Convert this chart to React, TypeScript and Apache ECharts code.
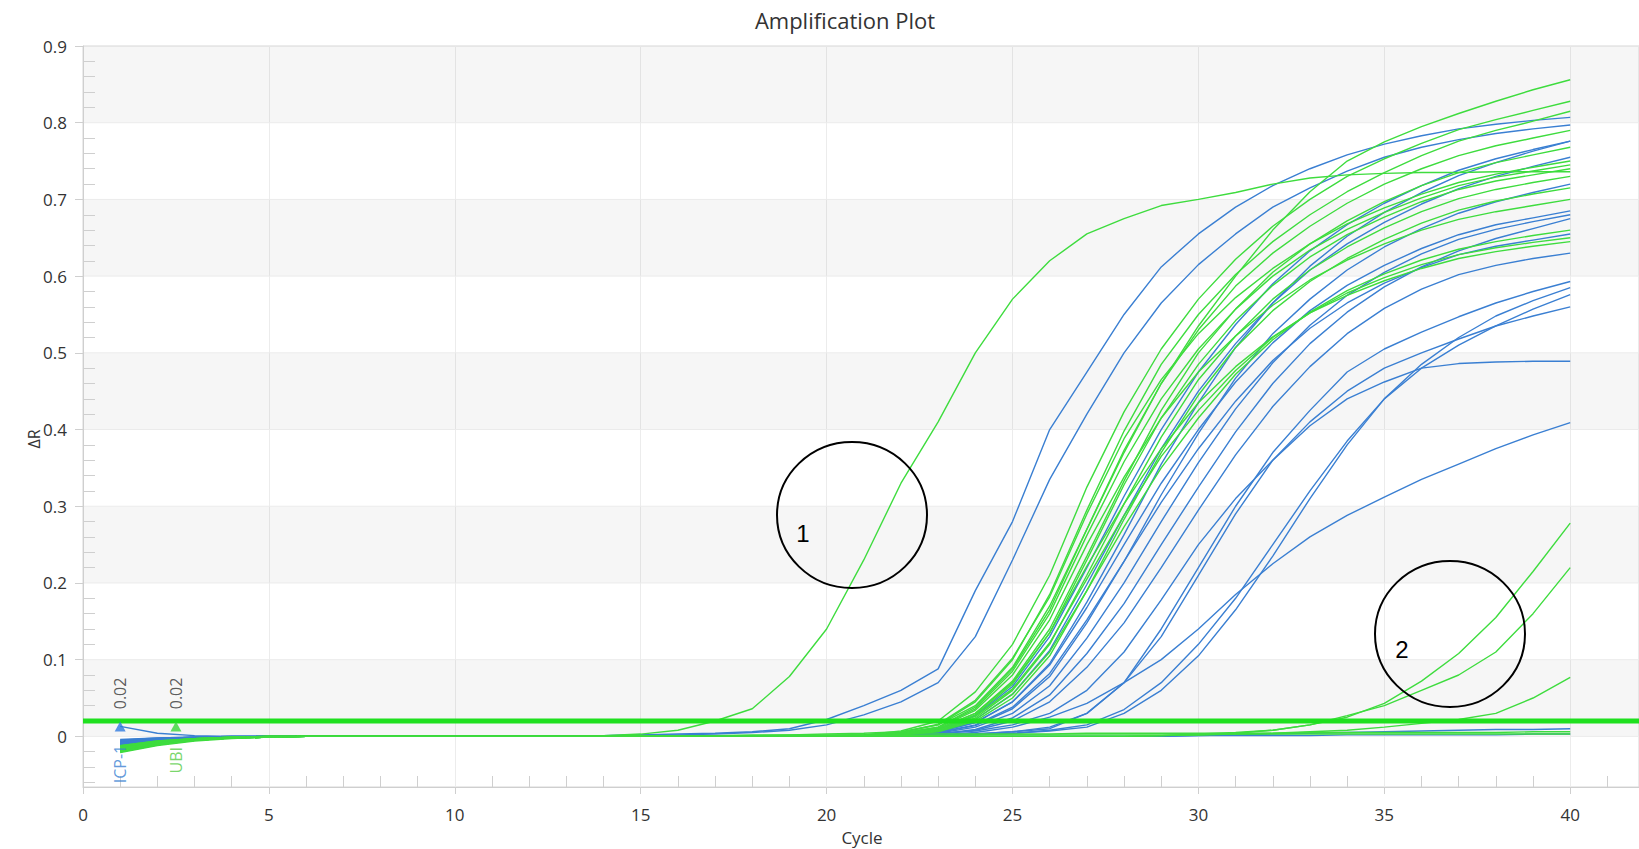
import React, { useEffect, useRef } from "react";
import * as echarts from "echarts";

// ---------- axes ----------
const X_MAX = 41.85;
const Y_MIN = -0.066;
const Y_MAX = 0.9;
const cycles = [1,2,3,4,5,6,7,8,9,10,11,12,13,14,15,16,17,18,19,20,21,22,23,24,25,26,27,28,29,30,31,32,33,34,35,36,37,38,39,40];
const xTicks = [0,5,10,15,20,25,30,35,40];
const xMinorTicks = [1,2,3,4,6,7,8,9,11,12,13,14,16,17,18,19,21,22,23,24,26,27,28,29,31,32,33,34,36,37,38,39,41];
const yTicks = [0,0.1,0.2,0.3,0.4,0.5,0.6,0.7,0.8,0.9];
const yMinorTicks = [-0.06,-0.04,-0.02,0.02,0.04,0.06,0.08,0.12,0.14,0.16,0.18,0.22,0.24,0.26,0.28,0.32,0.34,0.36,0.38,0.42,0.44,0.46,0.48,0.52,0.54,0.56,0.58,0.62,0.64,0.66,0.68,0.72,0.74,0.76,0.78,0.82,0.84,0.86,0.88];
const bandStarts = [0,0.2,0.4,0.6,0.8];

// ---------- threshold ----------
const thresholdValue = 0.02;
const thresholdTargets = ["ICP-1", "UBI"];
const thresholdCycles = [1, 2.5];
const thresholdMarkerY = 0.013;
const thresholdLabelY = [0.056, 0.056];
const targetLabelY = [-0.036, -0.031];

// ---------- ICP-1 (blue) curves, ΔR at cycles 1..40 ----------
const icp1 = [
  [-0.01,-0.005,-0.002,-0.001,0,0,0,0,0,0,0,0,0.001,0.001,0.002,0.003,0.004,0.006,0.01,0.022,0.04,0.06,0.088,0.19,0.28,0.40,0.475,0.55,0.612,0.655,0.69,0.718,0.74,0.758,0.772,0.783,0.792,0.798,0.803,0.807],
  [-0.006,-0.003,-0.001,0,0,0,0,0,0,0,0,0,0,0.001,0.002,0.002,0.003,0.005,0.008,0.015,0.028,0.045,0.07,0.13,0.23,0.335,0.42,0.5,0.565,0.615,0.655,0.69,0.715,0.737,0.755,0.768,0.778,0.786,0.792,0.797],
  [-0.012,-0.006,-0.003,-0.001,0,0,0,0,0,0,0,0,0,0,0,0,0,0,0.001,0.001,0.001,0.003,0.009,0.027,0.065,0.13,0.22,0.313,0.40,0.475,0.537,0.59,0.633,0.667,0.695,0.718,0.738,0.753,0.765,0.776],
  [-0.01,-0.005,-0.002,-0.001,0,0,0,0,0,0,0,0,0,0,0,0,0,0,0,0.001,0.001,0.002,0.006,0.018,0.045,0.095,0.175,0.263,0.355,0.435,0.507,0.565,0.613,0.652,0.683,0.709,0.731,0.748,0.763,0.776],
  [-0.008,-0.004,-0.002,-0.001,0,0,0,0,0,0,0,0,0,0,0,0,0,0,0,0.001,0.001,0.002,0.007,0.022,0.055,0.112,0.198,0.288,0.375,0.45,0.512,0.565,0.608,0.642,0.67,0.694,0.714,0.73,0.743,0.755],
  [-0.011,-0.006,-0.003,-0.001,0,0,0,0,0,0,0,0,0,0,0,0,0,0,0,0,0.001,0.002,0.005,0.014,0.036,0.078,0.148,0.228,0.315,0.395,0.467,0.525,0.57,0.608,0.638,0.662,0.682,0.697,0.709,0.72],
  [-0.005,-0.002,-0.001,0,0,0,0,0,0,0,0,0,0,0,0,0,0,0,0,0.001,0.001,0.002,0.006,0.018,0.045,0.093,0.168,0.25,0.33,0.40,0.462,0.513,0.555,0.588,0.614,0.636,0.654,0.667,0.676,0.685],
  [-0.013,-0.007,-0.003,-0.001,-0.001,0,0,0,0,0,0,0,0,0,0,0,0,0,0,0,0,0.001,0.004,0.012,0.03,0.066,0.128,0.20,0.28,0.357,0.427,0.487,0.536,0.575,0.605,0.629,0.648,0.661,0.671,0.68],
  [-0.009,-0.005,-0.002,-0.001,0,0,0,0,0,0,0,0,0,0,0,0,0,0,0,0,0,0.001,0.003,0.009,0.024,0.054,0.108,0.173,0.25,0.325,0.397,0.46,0.512,0.553,0.586,0.612,0.633,0.649,0.662,0.675],
  [-0.01,-0.005,-0.002,-0.001,0,0,0,0,0,0,0,0,0,0,0,0,0,0,0,0.001,0.001,0.002,0.005,0.015,0.038,0.082,0.152,0.228,0.305,0.375,0.437,0.49,0.532,0.565,0.591,0.611,0.628,0.639,0.647,0.655],
  [-0.007,-0.003,-0.001,0,0,0,0,0,0,0,0,0,0,0,0,0,0,0,0,0,0,0.001,0.003,0.008,0.02,0.045,0.09,0.148,0.22,0.295,0.367,0.43,0.482,0.525,0.558,0.583,0.602,0.614,0.623,0.63],
  [-0.011,-0.006,-0.003,-0.001,0,0,0,0,0,0,0,0,0,0,0,0,0,0,0,0,0,0.001,0.002,0.003,0.006,0.01,0.03,0.07,0.14,0.22,0.3,0.37,0.425,0.475,0.505,0.527,0.547,0.565,0.58,0.593],
  [-0.004,-0.002,-0.001,0,0,0,0,0,0,0,0,0,0,0,0,0,0,0,0,0,0,0,0.001,0.002,0.004,0.007,0.012,0.03,0.06,0.105,0.165,0.235,0.31,0.38,0.44,0.485,0.52,0.548,0.568,0.585],
  [-0.012,-0.006,-0.003,-0.002,-0.001,0,0,0,0,0,0,0,0,0,0,0,0,0,0,0,0,0.001,0.001,0.002,0.004,0.008,0.015,0.035,0.07,0.12,0.18,0.25,0.32,0.385,0.44,0.48,0.51,0.535,0.557,0.576],
  [-0.009,-0.005,-0.002,-0.001,0,0,0,0,0,0,0,0,0,0,0,0,0,0,0,0,0,0.001,0.002,0.003,0.006,0.012,0.03,0.07,0.13,0.21,0.29,0.36,0.41,0.45,0.48,0.5,0.518,0.535,0.548,0.56],
  [-0.006,-0.003,-0.001,0,0,0,0,0,0,0,0,0,0,0,0,0,0,0,0,0,0.001,0.002,0.004,0.007,0.015,0.03,0.06,0.11,0.178,0.25,0.31,0.36,0.405,0.44,0.462,0.48,0.486,0.488,0.489,0.489],
  [-0.01,-0.005,-0.003,-0.001,0,0,0,0,0,0,0,0,0,0,0,0,0,0,0,0,0.001,0.001,0.002,0.005,0.012,0.025,0.043,0.07,0.1,0.14,0.185,0.225,0.26,0.288,0.312,0.335,0.355,0.375,0.393,0.409],
  [-0.008,-0.004,-0.002,-0.001,0,0,0,0,0,0,0,0,0,0,0,0,0,0,0,0,0,0,0,0,0,0,0,0,0,0.001,0.002,0.003,0.004,0.005,0.006,0.007,0.008,0.009,0.009,0.01],
  [0.013,0.004,0.001,0,0,0,0,0,0,0,0,0,0,0,0,0,0,0,0,0,0,0,0,0,0,0,0,0,0,0.001,0.001,0.001,0.001,0.002,0.002,0.002,0.002,0.002,0.003,0.003],
];

// ---------- UBI (green) curves, ΔR at cycles 1..40 ----------
const ubi = [
  [-0.018,-0.01,-0.005,-0.002,-0.001,0,0,0,0,0,0,0,0,0.001,0.003,0.008,0.02,0.036,0.078,0.14,0.23,0.33,0.41,0.5,0.57,0.62,0.655,0.675,0.692,0.70,0.709,0.72,0.728,0.732,0.734,0.735,0.735,0.736,0.736,0.736],
  [-0.012,-0.006,-0.003,-0.001,0,0,0,0,0,0,0,0,0,0,0,0,0.001,0.001,0.002,0.003,0.004,0.006,0.015,0.04,0.09,0.17,0.27,0.37,0.46,0.535,0.6,0.66,0.71,0.75,0.775,0.795,0.812,0.828,0.843,0.856],
  [-0.02,-0.011,-0.005,-0.002,-0.001,0,0,0,0,0,0,0,0,0,0,0,0,0.001,0.001,0.001,0.002,0.007,0.02,0.058,0.12,0.21,0.325,0.423,0.505,0.57,0.622,0.665,0.70,0.73,0.753,0.773,0.791,0.804,0.816,0.828],
  [-0.015,-0.008,-0.004,-0.002,0,0,0,0,0,0,0,0,0,0,0,0,0,0,0.001,0.001,0.001,0.005,0.015,0.045,0.1,0.185,0.295,0.398,0.485,0.55,0.602,0.645,0.68,0.71,0.735,0.757,0.776,0.79,0.802,0.815],
  [-0.019,-0.01,-0.005,-0.002,-0.001,0,0,0,0,0,0,0,0,0,0,0,0,0,0.001,0.001,0.002,0.004,0.012,0.038,0.088,0.165,0.27,0.373,0.46,0.53,0.587,0.63,0.665,0.695,0.72,0.74,0.757,0.77,0.78,0.79],
  [-0.016,-0.008,-0.004,-0.002,0,0,0,0,0,0,0,0,0,0,0,0,0,0,0,0.001,0.001,0.003,0.01,0.03,0.072,0.14,0.235,0.333,0.425,0.50,0.557,0.605,0.642,0.672,0.697,0.718,0.735,0.748,0.758,0.768],
  [-0.021,-0.012,-0.006,-0.003,-0.001,0,0,0,0,0,0,0,0,0,0,0,0,0.001,0.001,0.001,0.002,0.005,0.016,0.047,0.102,0.182,0.29,0.388,0.465,0.525,0.572,0.61,0.642,0.668,0.689,0.707,0.722,0.733,0.742,0.75],
  [-0.013,-0.007,-0.003,-0.001,0,0,0,0,0,0,0,0,0,0,0,0,0,0,0.001,0.001,0.001,0.004,0.012,0.036,0.085,0.16,0.262,0.358,0.44,0.505,0.557,0.60,0.634,0.661,0.683,0.702,0.718,0.729,0.737,0.745],
  [-0.017,-0.009,-0.004,-0.002,-0.001,0,0,0,0,0,0,0,0,0,0,0,0,0,0,0.001,0.001,0.003,0.009,0.028,0.068,0.135,0.23,0.328,0.415,0.485,0.542,0.588,0.625,0.654,0.677,0.697,0.713,0.724,0.732,0.74],
  [-0.02,-0.011,-0.005,-0.002,-0.001,0,0,0,0,0,0,0,0,0,0,0,0,0,0,0.001,0.001,0.003,0.008,0.024,0.06,0.12,0.21,0.303,0.39,0.465,0.522,0.57,0.608,0.638,0.663,0.684,0.701,0.713,0.722,0.73],
  [-0.014,-0.007,-0.003,-0.001,0,0,0,0,0,0,0,0,0,0,0,0,0,0,0,0,0.001,0.002,0.006,0.02,0.05,0.105,0.19,0.283,0.37,0.445,0.507,0.555,0.593,0.623,0.648,0.669,0.686,0.698,0.707,0.715],
  [-0.018,-0.01,-0.005,-0.002,-0.001,0,0,0,0,0,0,0,0,0,0,0,0,0,0.001,0.001,0.001,0.004,0.011,0.034,0.08,0.152,0.25,0.338,0.415,0.475,0.522,0.562,0.595,0.621,0.642,0.66,0.674,0.684,0.692,0.70],
  [-0.015,-0.008,-0.004,-0.002,0,0,0,0,0,0,0,0,0,0,0,0,0,0,0,0,0.001,0.002,0.007,0.022,0.055,0.11,0.19,0.273,0.35,0.415,0.472,0.517,0.553,0.581,0.603,0.621,0.635,0.645,0.653,0.66],
  [-0.019,-0.01,-0.005,-0.002,-0.001,0,0,0,0,0,0,0,0,0,0,0,0,0,0,0.001,0.001,0.003,0.008,0.026,0.062,0.122,0.205,0.288,0.365,0.425,0.477,0.52,0.552,0.578,0.598,0.615,0.628,0.637,0.644,0.65],
  [-0.012,-0.006,-0.003,-0.001,0,0,0,0,0,0,0,0,0,0,0,0,0,0,0,0.001,0.001,0.003,0.01,0.03,0.07,0.135,0.222,0.303,0.375,0.435,0.482,0.521,0.552,0.575,0.594,0.61,0.623,0.632,0.639,0.645],
  [-0.016,-0.008,-0.004,-0.002,-0.001,0,0,0,0,0,0,0,0,0,0,0,0,0,0,0,0,0,0,0,0,0,0,0,0.001,0.003,0.005,0.008,0.015,0.025,0.043,0.072,0.108,0.155,0.215,0.278],
  [-0.013,-0.007,-0.003,-0.001,0,0,0,0,0,0,0,0,0,0,0,0,0,0,0,0,0,0,0,0,0,0,0,0,0.001,0.002,0.004,0.008,0.015,0.027,0.04,0.06,0.08,0.11,0.16,0.22],
  [-0.019,-0.01,-0.005,-0.002,-0.001,0,0,0,0,0,0,0,0,0,0,0,0,0,0,0,0,0,0,0,0,0,0,0,0.001,0.002,0.003,0.004,0.006,0.008,0.012,0.017,0.022,0.03,0.05,0.077],
  [-0.02,-0.011,-0.005,-0.002,-0.001,0,0,0,0,0,0,0,0,0,0.001,0.001,0.001,0.002,0.002,0.002,0.002,0.003,0.003,0.003,0.003,0.003,0.004,0.004,0.004,0.004,0.004,0.004,0.005,0.005,0.005,0.005,0.005,0.005,0.006,0.006],
  [-0.017,-0.009,-0.004,-0.002,-0.001,0,0,0,0,0,0,0,0,0,0,0,0,0,0.001,0.001,0.001,0.001,0.001,0.002,0.002,0.002,0.002,0.002,0.002,0.002,0.003,0.003,0.003,0.003,0.003,0.003,0.003,0.003,0.003,0.003],
];

const BLUE = "#3a7fd2";
const GREEN = "#3edc3e";
const THRESH_GREEN = "#1fe01f";
const FONT = "'Open Sans', 'Noto Sans', sans-serif";

export default function App() {
  const ref = useRef<HTMLDivElement>(null);

  useEffect(() => {
    document.body.style.margin = "0";
    if (!ref.current) return;
    const chart = echarts.init(ref.current, null, { renderer: "svg" });

    const curveSeries = (arr: number[][], color: string, z: number) =>
      arr.map((vals, k) => ({
        type: "line",
        name: (color === BLUE ? "ICP-1 " : "UBI ") + (k + 1),
        data: cycles.map((c, i) => [c, vals[i]]),
        showSymbol: false,
        symbol: "none",
        silent: true,
        z,
        lineStyle: { color, width: 1.4 },
      }));

    const option: any = {
      animation: false,
      backgroundColor: "#ffffff",
      grid: {
        left: 83,
        right: 0,
        top: 46,
        bottom: 62,
        show: true,
        borderColor: "#d6d6d6",
        borderWidth: 1,
        backgroundColor: "transparent",
      },
      xAxis: [
        {
          type: "value",
          min: 0,
          max: X_MAX,
          interval: 5,
          axisLine: { onZero: false, lineStyle: { color: "#cfcfcf" } },
          axisTick: { show: true, inside: false, length: 7, customValues: xTicks, lineStyle: { color: "#cfcfcf" } },
          axisLabel: { customValues: xTicks, margin: 19, color: "#333", fontSize: 17, fontFamily: FONT },
          splitLine: { show: true, lineStyle: { color: "#ececec" } },
        },
        {
          type: "value",
          min: 0,
          max: X_MAX,
          position: "bottom",
          axisLine: { show: false, onZero: false },
          axisTick: { show: true, inside: true, length: 11, customValues: xMinorTicks, lineStyle: { color: "#cfcfcf" } },
          axisLabel: { show: false },
          splitLine: { show: false },
        },
      ],
      yAxis: [
        {
          type: "value",
          min: Y_MIN,
          max: Y_MAX,
          position: "left",
          axisLine: { show: true, onZero: false, lineStyle: { color: "#cfcfcf" } },
          axisTick: { show: true, inside: false, length: 8, customValues: yTicks, lineStyle: { color: "#cfcfcf" } },
          axisLabel: {
            customValues: yTicks,
            margin: 16,
            color: "#333",
            fontSize: 17,
            fontFamily: FONT,
            formatter: (v: number) => (Math.abs(v) < 1e-9 ? "0" : v.toFixed(1)),
          },
          splitLine: { show: false },
        },
        {
          type: "value",
          min: Y_MIN,
          max: Y_MAX,
          position: "left",
          axisLine: { show: false, onZero: false },
          axisTick: { show: true, inside: true, length: 12, customValues: yMinorTicks, lineStyle: { color: "#cfcfcf" } },
          axisLabel: { show: false },
          splitLine: { show: false },
        },
      ],
      series: [
        {
          type: "line",
          name: "bands",
          data: [[0, null]],
          silent: true,
          showSymbol: false,
          z: 0,
          markArea: {
            silent: true,
            z: 0,
            itemStyle: { color: "rgba(0,0,0,0.035)", borderColor: "#ebebeb", borderWidth: 1 },
            data: bandStarts.map((b) => [{ yAxis: b }, { yAxis: b + 0.1 }]),
          },
        },
        ...curveSeries(icp1, BLUE, 2),
        ...curveSeries(ubi, GREEN, 3),
        {
          type: "line",
          name: "threshold",
          data: [[0, thresholdValue], [X_MAX, thresholdValue]],
          showSymbol: false,
          symbol: "none",
          silent: true,
          z: 6,
          lineStyle: { color: THRESH_GREEN, width: 5 },
        },
        {
          type: "scatter",
          name: "threshold markers",
          silent: true,
          z: 7,
          symbol: "triangle",
          symbolSize: [11, 10],
          data: thresholdCycles.map((c, i) => ({
            value: [c, thresholdMarkerY],
            itemStyle: { color: i === 0 ? "#2f7be0" : "#39d639" },
          })),
        },
        {
          type: "scatter",
          name: "threshold values",
          silent: true,
          z: 7,
          symbolSize: 0,
          data: thresholdCycles.map((c, i) => ({
            value: [c, thresholdLabelY[i]],
            label: {
              show: true,
              position: "inside",
              rotate: 90,
              formatter: thresholdValue.toFixed(2),
              color: "#333",
              fontSize: 16,
              fontFamily: FONT,
            },
          })),
        },
        {
          type: "scatter",
          name: "threshold targets",
          silent: true,
          z: 7,
          symbolSize: 0,
          data: thresholdCycles.map((c, i) => ({
            value: [c, targetLabelY[i]],
            label: {
              show: true,
              position: "inside",
              rotate: 90,
              formatter: thresholdTargets[i],
              color: i === 0 ? "#3a7fd2" : "#55cc44",
              fontSize: 16,
              fontFamily: FONT,
            },
          })),
        },
      ],
      graphic: [
        {
          type: "text",
          x: 845,
          y: 20,
          style: { text: "Amplification Plot", fill: "#333", fontSize: 22, fontFamily: FONT, align: "center", verticalAlign: "middle" },
          z: 10,
        },
        {
          type: "text",
          x: 862,
          y: 837,
          style: { text: "Cycle", fill: "#333", fontSize: 17, fontFamily: FONT, align: "center", verticalAlign: "middle" },
          z: 10,
        },
        {
          type: "text",
          x: 34,
          y: 439,
          rotation: Math.PI / 2,
          style: { text: "ΔR", fill: "#333", fontSize: 16, fontFamily: FONT, align: "center", verticalAlign: "middle" },
          z: 10,
        },
        {
          type: "ellipse",
          shape: { cx: 852, cy: 515, rx: 75, ry: 73 },
          style: { fill: "none", stroke: "#000", lineWidth: 2 },
          z: 20,
        },
        {
          type: "text",
          x: 803,
          y: 533,
          style: { text: "1", fill: "#000", fontSize: 24, fontFamily: "'Liberation Sans', Arial, sans-serif", align: "center", verticalAlign: "middle" },
          z: 20,
        },
        {
          type: "ellipse",
          shape: { cx: 1450, cy: 634, rx: 75, ry: 73 },
          style: { fill: "none", stroke: "#000", lineWidth: 2 },
          z: 20,
        },
        {
          type: "text",
          x: 1402,
          y: 649,
          style: { text: "2", fill: "#000", fontSize: 24, fontFamily: "'Liberation Sans', Arial, sans-serif", align: "center", verticalAlign: "middle" },
          z: 20,
        },
      ],
    };

    chart.setOption(option);
    return () => chart.dispose();
  }, []);

  return <div ref={ref} style={{ width: 1639, height: 849 }} />;
}
